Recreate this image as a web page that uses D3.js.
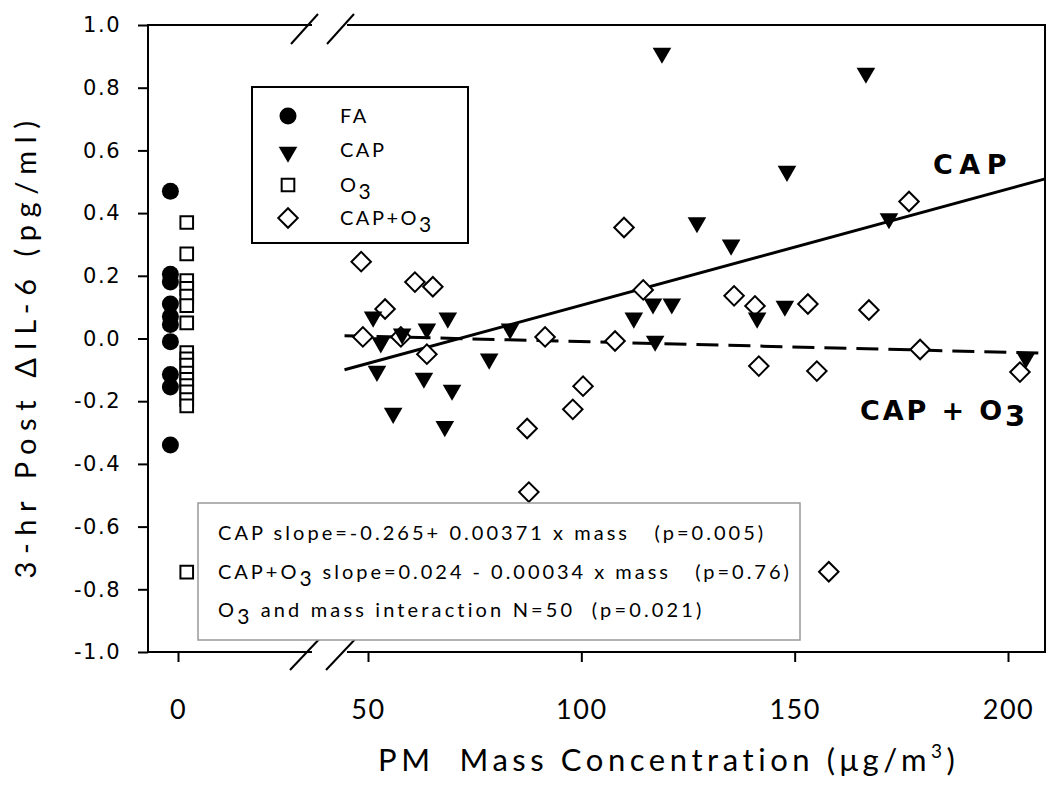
<!DOCTYPE html>
<html><head><meta charset="utf-8">
<script src="https://cdn.jsdelivr.net/npm/d3@7"></script>
<style>body{margin:0;background:#fff;} svg{display:block;} text{white-space:pre;}</style>
</head><body>
<svg id="chart" width="1050" height="785"></svg>
<script>
// ---------------- data ----------------
const yTicks = [1.0, 0.8, 0.6, 0.4, 0.2, 0.0, -0.2, -0.4, -0.6, -0.8, -1.0];
const xTicksLeft = [0];
const xTicksRight = [50, 100, 150, 200];

const faValues = [0.47, 0.205, 0.18, 0.11, 0.07, 0.045, -0.01, -0.115, -0.155, -0.34];
const o3Values = [0.37, 0.27, 0.185, 0.16, 0.135, 0.105, 0.05, -0.045, -0.065, -0.085, -0.11, -0.13, -0.15, -0.17, -0.195, -0.215, -0.745];

const capMass   = [51.2, 53.0, 52.1, 55.9, 58.0, 63.8, 68.7, 63.1, 69.7, 68.0, 78.4, 83.3, 118.9, 127.1, 116.8, 121.2, 112.3, 117.3, 166.7, 148.2, 135.1, 172.1, 141.2, 147.7, 204.2];
const capValues = [0.075, -0.007, -0.098, -0.232, 0.021, 0.037, 0.072, -0.12, -0.158, -0.274, -0.059, 0.037, 0.917, 0.376, 0.117, 0.117, 0.072, -0.002, 0.853, 0.54, 0.305, 0.389, 0.072, 0.11, -0.056];

const capO3Mass   = [48.4, 61.0, 65.2, 54.0, 48.8, 57.7, 63.8, 87.3, 87.7, 91.5, 98.0, 100.4, 107.9, 110.0, 114.5, 135.8, 140.7, 153.1, 167.4, 141.6, 155.2, 179.4, 176.8, 202.8, 158.0];
const capO3Values = [0.245, 0.18, 0.165, 0.094, 0.005, 0.005, -0.05, -0.287, -0.49, 0.005, -0.226, -0.152, -0.008, 0.354, 0.155, 0.136, 0.104, 0.11, 0.091, -0.088, -0.104, -0.035, 0.437, -0.107, -0.744];

const capFit   = [-0.265, 0.00371];   // intercept, slope
const capO3Fit = [0.024, -0.00034];
const fitMassRange = [44.5, 208.7];

const faOffset = -2.0, o3Offset = 2.3;   // horizontal jitter around 0 in left panel

const legendLabels = [["FA", ""], ["CAP", ""], ["O", "3"], ["CAP+O", "3"]];
const annotationLines = [
  [["CAP slope=-0.265+ 0.00371 x mass   (p=0.005)", false]],
  [["CAP+O", false], ["3", true], [" slope=0.024 - 0.00034 x mass   (p=0.76)", false]],
  [["O", false], ["3", true], [" and mass interaction N=50  (p=0.021)", false]]
];

// ---------------- layout ----------------
const svg = d3.select("#chart");
const plotTop = 25, plotBottom = 652, plotLeft = 148, plotRight = 1045;
const breakL = 312, breakR = 347;

const y = d3.scaleLinear().domain([-1, 1]).range([plotBottom, plotTop]);
const xL = d3.scaleLinear().domain([0, 10]).range([178, 216]);
const xR = d3.scaleLinear().domain([50, 200]).range([368, 1008]);

function fitWidth(sel, target) {
  const node = sel.node();
  const n = node.getNumberOfChars();
  const w = node.getComputedTextLength();
  sel.attr("letter-spacing", ((target - w) / n).toFixed(2));
}

// frame lines
const frame = svg.append("g").attr("stroke", "#000").attr("stroke-width", 2).attr("fill", "none");
[[plotLeft, breakL, plotTop], [breakR, plotRight, plotTop], [plotLeft, breakL, plotBottom], [breakR, plotRight, plotBottom]].forEach(([a, b, yy]) =>
  frame.append("line").attr("x1", a).attr("x2", b).attr("y1", yy).attr("y2", yy));
frame.append("line").attr("x1", plotLeft).attr("x2", plotLeft).attr("y1", plotTop - 1).attr("y2", plotBottom + 1);
frame.append("line").attr("x1", plotRight).attr("x2", plotRight).attr("y1", plotTop - 1).attr("y2", plotBottom + 1);

// break marks
const brk = svg.append("g").attr("stroke", "#000").attr("stroke-width", 2);
[[291, 44, 318, 14], [327, 44, 354, 14], [290, 670, 324, 634], [326, 670, 360, 634]].forEach(([a, b, c, d]) =>
  brk.append("line").attr("x1", a).attr("y1", b).attr("x2", c).attr("y2", d));

// y axis
const yAxis = svg.append("g").attr("transform", `translate(${plotLeft},0)`)
  .call(d3.axisLeft(y).tickValues(yTicks).tickSize(10).tickSizeOuter(0).tickPadding(17)
    .tickFormat(d => d.toFixed(1)));
yAxis.select(".domain").remove();
yAxis.selectAll("line").attr("stroke-width", 2);
yAxis.selectAll("text").attr("font-family", "'DejaVu Sans', Verdana, sans-serif")
  .attr("font-size", 21).attr("letter-spacing", 1.5).attr("fill", "#000");

// x axes
function xAxisPart(scale, ticks) {
  const g = svg.append("g").attr("transform", `translate(0,${plotBottom})`)
    .call(d3.axisBottom(scale).tickValues(ticks).tickSize(10).tickSizeOuter(0).tickPadding(38));
  g.select(".domain").remove();
  g.selectAll("line").attr("stroke-width", 2);
  g.selectAll("text").attr("font-family", "Lato, 'Open Sans', sans-serif")
    .attr("font-size", 27).attr("letter-spacing", 1.5).attr("fill", "#000");
  return g;
}
xAxisPart(xL, xTicksLeft);
xAxisPart(xR, xTicksRight);

// axis titles
const yTitle = svg.append("text")
  .attr("transform", `translate(36,346) rotate(-90)`)
  .attr("text-anchor", "middle").attr("font-family", "Lato, 'Open Sans', sans-serif")
  .attr("font-size", 29).attr("fill", "#000")
  .text("3-hr Post \u0394IL-6 (pg/ml)");
fitWidth(yTitle, 465);

const xTitle = svg.append("text")
  .attr("x", 378).attr("y", 771).attr("font-family", "Lato, 'Open Sans', sans-serif")
  .attr("font-size", 31).attr("fill", "#000");
xTitle.append("tspan").text("PM  Mass Concentration (\u03BCg/m");
xTitle.append("tspan").attr("font-size", 19).attr("dy", -13).text("3");
xTitle.append("tspan").attr("dy", 13).text(")");
fitWidth(xTitle, 582);

// regression lines
const fitLine = (coef) => d3.line()
  .x(m => xR(m)).y(m => y(coef[0] + coef[1] * m));
svg.append("path").datum(fitMassRange).attr("d", fitLine(capFit))
  .attr("stroke", "#000").attr("stroke-width", 3).attr("fill", "none");
svg.append("path").datum(fitMassRange).attr("d", fitLine(capO3Fit))
  .attr("stroke", "#000").attr("stroke-width", 3).attr("fill", "none")
  .attr("stroke-dasharray", "22,10");

// symbols
const circleSym = d3.symbol().type(d3.symbolCircle).size(227);
const triSym = d3.symbol().type(d3.symbolTriangle).size(150);
const sqSym = d3.symbol().type(d3.symbolSquare).size(160);
const diaSym = d3.symbol().type(d3.symbolSquare).size(190);

const pts = svg.append("g");
pts.selectAll(".fa").data(faValues).join("path")
  .attr("d", circleSym).attr("transform", d => `translate(${xL(faOffset)},${y(d)})`)
  .attr("fill", "#000");
pts.selectAll(".o3").data(o3Values).join("path")
  .attr("d", sqSym).attr("transform", d => `translate(${xL(o3Offset)},${y(d)})`)
  .attr("fill", "#fff").attr("stroke", "#000").attr("stroke-width", 2);
pts.selectAll(".capo3").data(d3.zip(capO3Mass, capO3Values)).join("path")
  .attr("d", diaSym).attr("transform", d => `translate(${xR(d[0])},${y(d[1])}) rotate(45)`)
  .attr("fill", "#fff").attr("stroke", "#000").attr("stroke-width", 2);
pts.selectAll(".cap").data(d3.zip(capMass, capValues)).join("path")
  .attr("d", triSym).attr("transform", d => `translate(${xR(d[0])},${y(d[1]) + 2}) rotate(180)`)
  .attr("fill", "#000");

// line labels
const lblFont = "'DejaVu Sans', Verdana, sans-serif";
const capLbl = svg.append("text").attr("x", 933).attr("y", 174)
  .attr("font-family", lblFont).attr("font-weight", "bold").attr("font-size", 27)
  .attr("fill", "#000").text("CAP");
fitWidth(capLbl, 80);
const capO3Lbl = svg.append("text").attr("x", 860).attr("y", 420)
  .attr("font-family", lblFont).attr("font-weight", "bold").attr("font-size", 27).attr("fill", "#000");
capO3Lbl.append("tspan").text("CAP + O");
capO3Lbl.append("tspan").attr("dy", 6).attr("font-size", 29).text("3");
fitWidth(capO3Lbl, 168);

// legend
const lg = svg.append("g");
lg.append("rect").attr("x", 252).attr("y", 87).attr("width", 216).attr("height", 156)
  .attr("fill", "#fff").attr("stroke", "#000").attr("stroke-width", 2);
const legSyms = [
  [circleSym, "#000", "none", 0, 0],
  [triSym, "#000", "none", 180, 2],
  [sqSym, "#fff", "#000", 0, 0],
  [diaSym, "#fff", "#000", 45, 0]
];
const legY = [116, 150, 185, 218];
legendLabels.forEach((lab, i) => {
  const [sym, fill, stroke, rot, dy] = legSyms[i];
  lg.append("path").attr("d", sym).attr("transform", `translate(288,${legY[i] + dy}) rotate(${rot})`)
    .attr("fill", fill).attr("stroke", stroke).attr("stroke-width", 2);
  const t = lg.append("text").attr("x", 340).attr("y", legY[i] + 7)
    .attr("font-family", "Lato, 'Open Sans', sans-serif").attr("font-size", 20)
    .attr("letter-spacing", 2.5).attr("fill", "#000");
  t.append("tspan").text(lab[0]);
  if (lab[1]) t.append("tspan").attr("dy", 7).attr("font-size", 21).text(lab[1]);
});

// annotation box
const ab = svg.append("g");
ab.append("rect").attr("x", 198).attr("y", 503).attr("width", 602).attr("height", 137)
  .attr("fill", "#fff").attr("stroke", "#999").attr("stroke-width", 1.5);
const annWidths = [548, 574, 487];
annotationLines.forEach((parts, i) => {
  const t = ab.append("text").attr("x", 218).attr("y", 540 + i * 38.5)
    .attr("font-family", "Lato, 'Open Sans', sans-serif").attr("font-size", 20).attr("fill", "#000");
  parts.forEach(([s, sub], j) => {
    const ts = t.append("tspan").text(s);
    if (sub) ts.attr("dy", 7).attr("font-size", 21);
    else if (j > 0 && parts[j - 1][1]) ts.attr("dy", -7);
  });
  fitWidth(t, annWidths[i]);
});
</script>
</body></html>
